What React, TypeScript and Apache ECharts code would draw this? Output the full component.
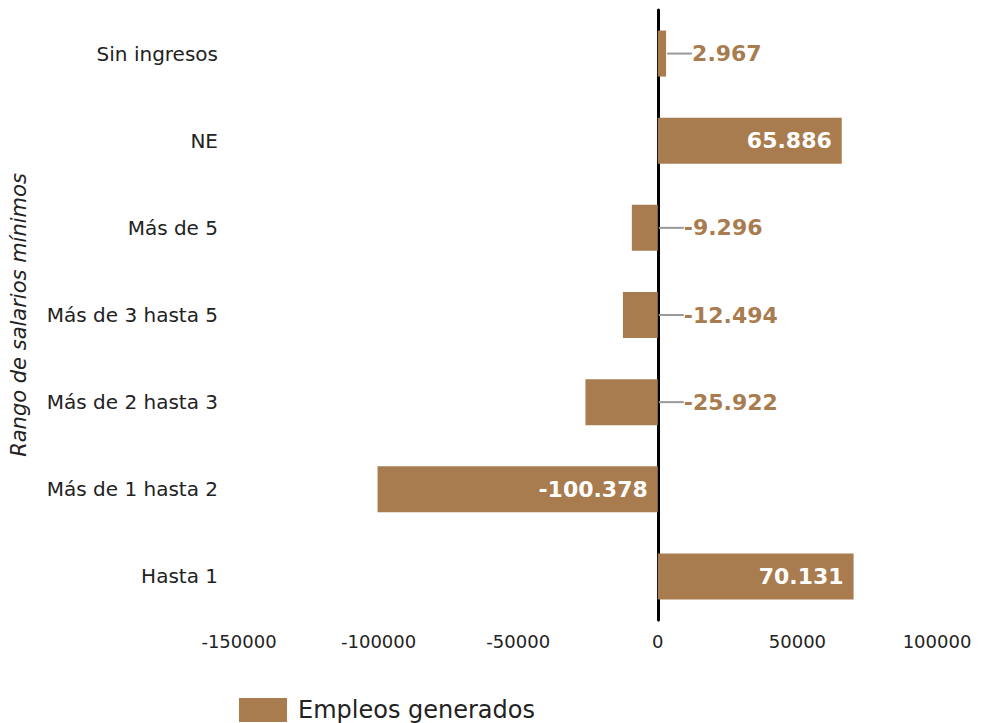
import React, { useEffect, useRef } from "react";
import * as echarts from "echarts";

const categories = [
  "Sin ingresos",
  "NE",
  "Más de 5",
  "Más de 3 hasta 5",
  "Más de 2 hasta 3",
  "Más de 1 hasta 2",
  "Hasta 1",
];
const values = [2967, 65886, -9296, -12494, -25922, -100378, 70131];
const seriesName = "Empleos generados";
const axisName = "Rango de salarios mínimos";
const xMin = -150000;
const xMax = 100000;
const xInterval = 50000;

const BAR = "#A87C4E";
const FONT = "'DejaVu Sans', sans-serif";
const OUTSIDE_LIMIT = 30000;

function fmt(v: number): string {
  const s = Math.abs(v).toString().replace(/\B(?=(\d{3})+(?!\d))/g, ".");
  return (v < 0 ? "-" : "") + s;
}

export default function App() {
  const ref = useRef<HTMLDivElement>(null);
  useEffect(() => {
    document.body.style.margin = "0";
    const chart = echarts.init(ref.current!, null, { renderer: "svg" });
    const barData = values.map((v) => ({
      value: v,
      label: {
        show: Math.abs(v) >= OUTSIDE_LIMIT,
        position: "insideRight",
        distance: 10,
        color: "#fff",
        fontWeight: "bold",
        fontSize: 22,
        fontFamily: FONT,
        formatter: () => fmt(v),
      },
    }));
    const outside = values
      .map((v, i) => [v, i])
      .filter((d) => Math.abs(d[0]) < OUTSIDE_LIMIT);
    chart.setOption({
      animation: false,
      grid: { left: 239, right: 46, top: 10, bottom: 103, containLabel: false },
      legend: {
        left: 239,
        top: 698,
        itemWidth: 48,
        itemHeight: 24,
        itemGap: 10,
        padding: 0,
        textStyle: { fontSize: 24, color: "#222", fontFamily: FONT, padding: [0, 0, 0, 6] },
        data: [{ name: seriesName, icon: "rect" }],
      },
      xAxis: {
        type: "value",
        min: xMin,
        max: xMax,
        interval: xInterval,
        splitLine: { show: false },
        axisLine: { show: false },
        axisTick: { show: false },
        axisLabel: {
          fontSize: 18,
          color: "#222",
          margin: 12,
          fontFamily: FONT,
          formatter: (v: number) => String(v),
        },
      },
      yAxis: {
        type: "category",
        data: categories,
        inverse: true,
        name: axisName,
        nameLocation: "middle",
        nameGap: 210,
        nameTextStyle: { fontSize: 21, fontStyle: "italic", color: "#222", fontFamily: FONT },
        axisTick: { show: false },
        axisLine: { onZero: true, lineStyle: { color: "#000", width: 3 } },
        axisLabel: { fontSize: 20, color: "#222", margin: 21, fontFamily: FONT },
      },
      series: [
        {
          name: seriesName,
          type: "bar",
          data: barData,
          barWidth: 46,
          itemStyle: { color: BAR },
        },
        {
          type: "custom",
          data: outside,
          silent: true,
          encode: { x: 0, y: 1 },
          renderItem: (params: any, api: any) => {
            const v = api.value(0);
            const c = api.value(1);
            const p0 = api.coord([0, c]);
            const pv = api.coord([v, c]);
            const start = Math.max(p0[0], pv[0]) + 1;
            const end = start + 25;
            return {
              type: "group",
              children: [
                {
                  type: "line",
                  shape: { x1: start, y1: p0[1], x2: end, y2: p0[1] },
                  style: { stroke: "#999", lineWidth: 2 },
                },
                {
                  type: "text",
                  x: end,
                  y: p0[1],
                  style: {
                    text: fmt(v),
                    fill: BAR,
                    fontSize: 22,
                    fontWeight: "bold",
                    fontFamily: FONT,
                    align: "left",
                    verticalAlign: "middle",
                  },
                },
              ],
            };
          },
        },
      ],
    });
    return () => chart.dispose();
  }, []);
  return <div ref={ref} style={{ width: 983, height: 723 }} />;
}
